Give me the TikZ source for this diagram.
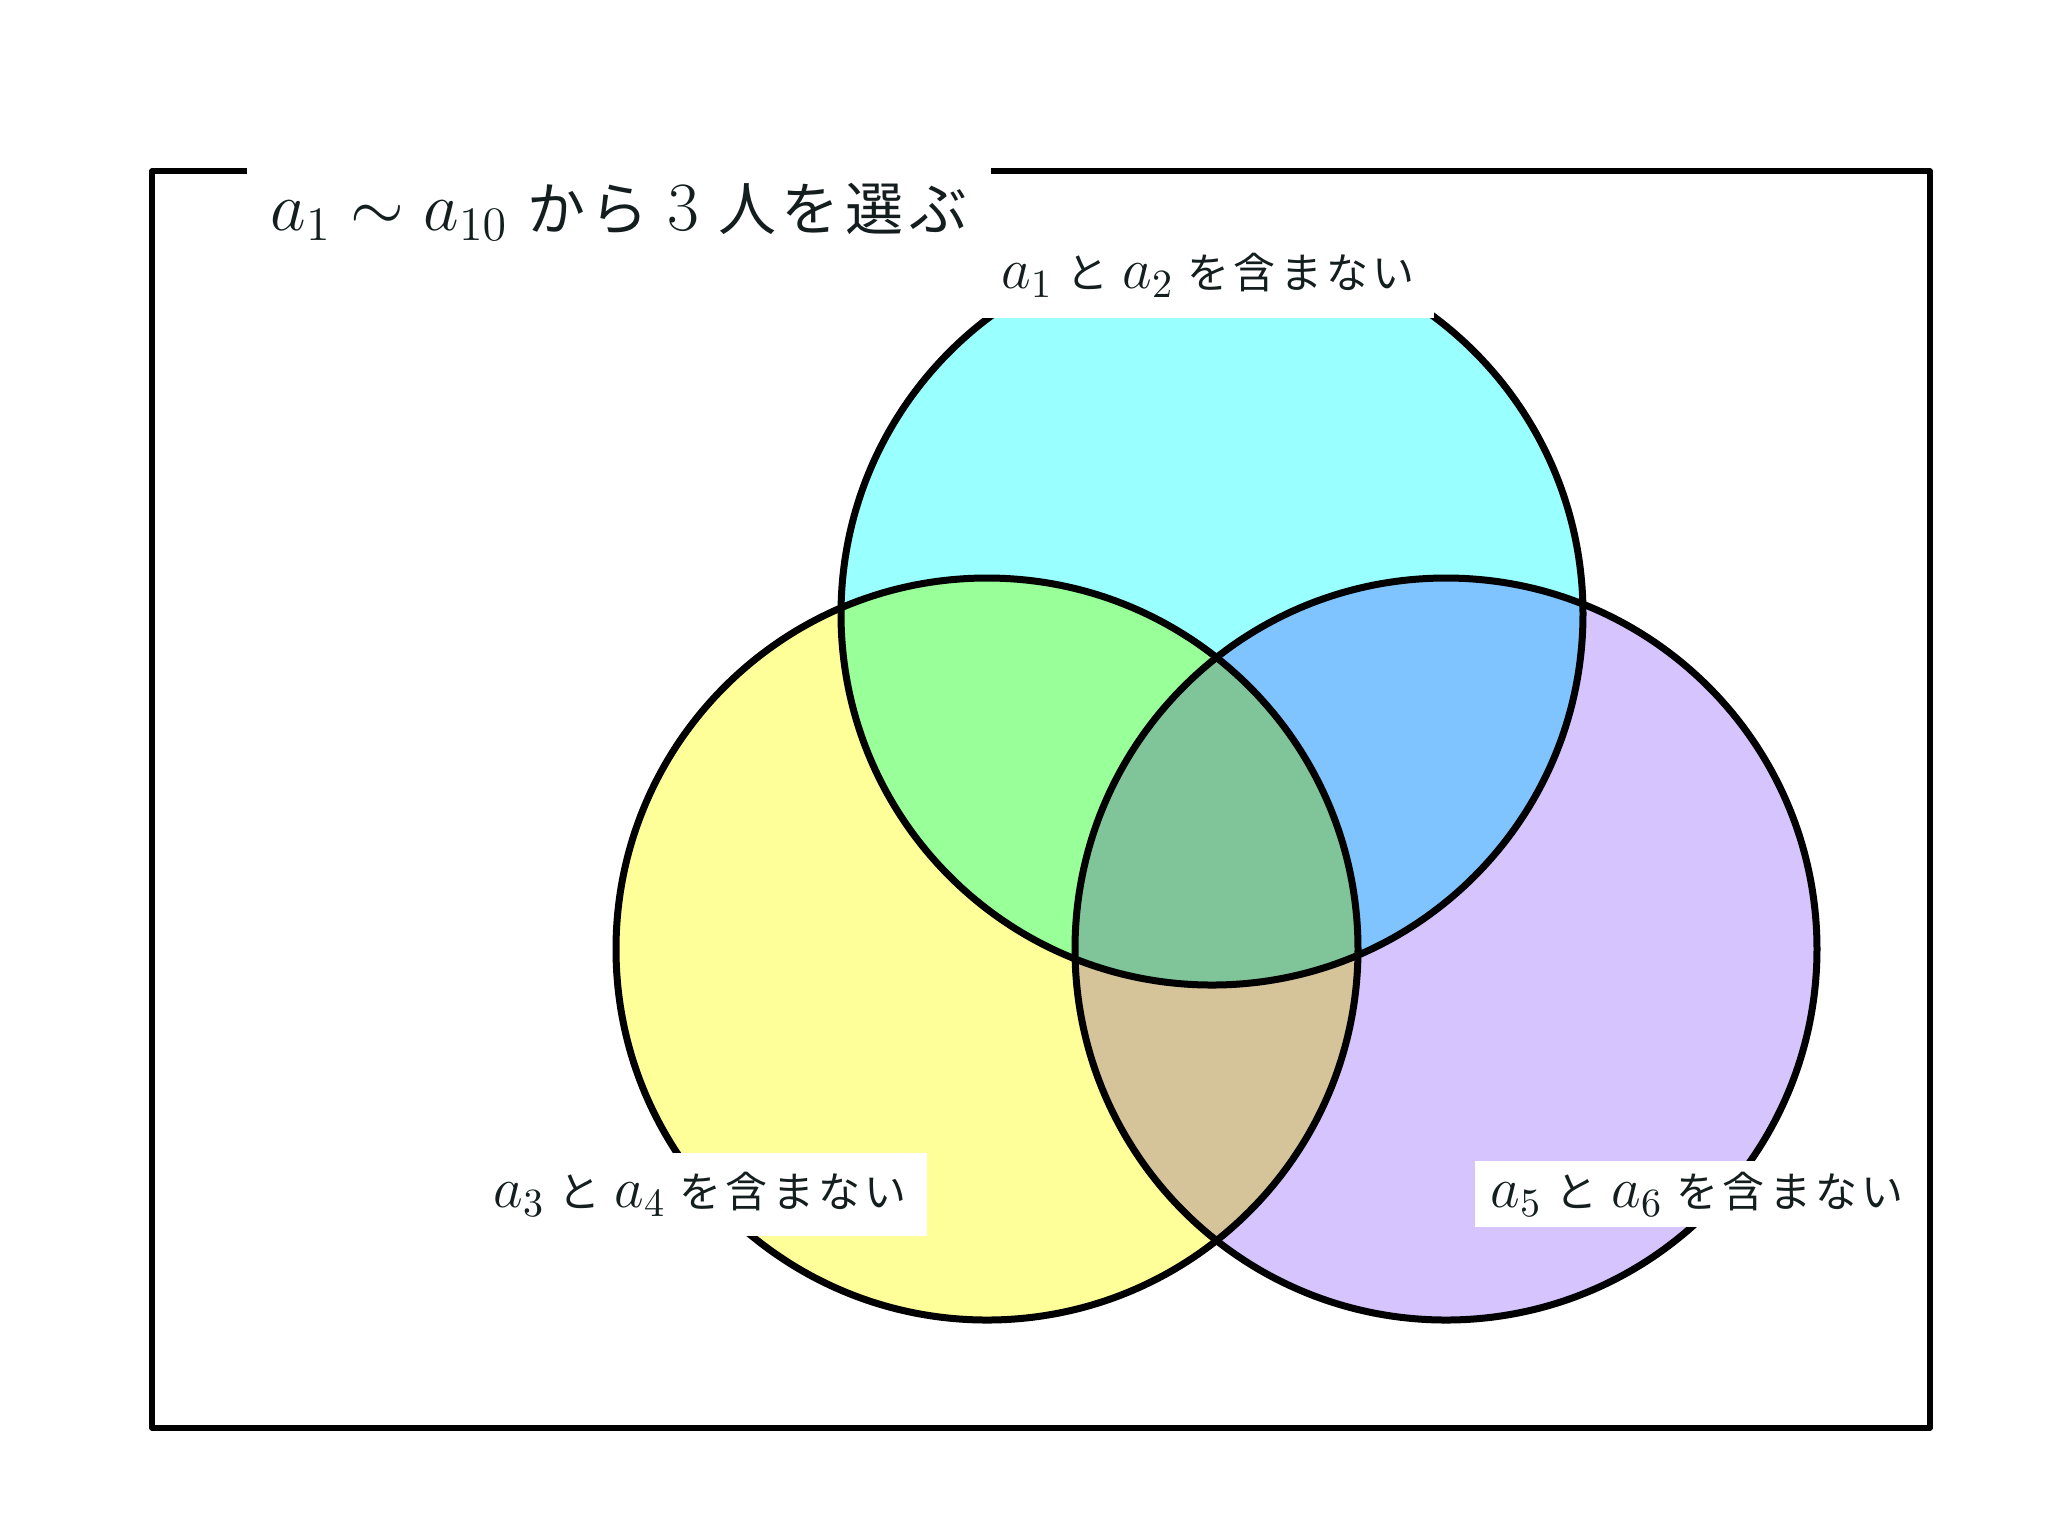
\documentclass[tikz,border=0pt]{standalone}
\usepackage{fontspec}
\newfontfamily\jp[LetterSpace=10]{Noto Sans CJK JP}
\definecolor{cfill}{RGB}{153,255,255}
\definecolor{yfill}{RGB}{255,255,153}
\definecolor{pfill}{RGB}{213,196,253}
\definecolor{gfill}{RGB}{153,255,153}
\definecolor{bfill}{RGB}{128,196,255}
\definecolor{tfill}{RGB}{213,196,153}
\definecolor{mfill}{RGB}{128,196,153}
\definecolor{txt}{RGB}{20,30,30}
\newcommand\lm[1]{{\fontsize{14.5}{14.5}\selectfont$#1$}}
\newcommand\tm[1]{{\fontsize{17.5}{17.5}\selectfont$#1$}}
\tikzset{
  ring/.style={draw=black, line width=1.75pt},
  frameline/.style={draw=black, line width=1.3pt, line join=round},
  lab/.style={fill=white, inner sep=0pt, text=txt, font=\jp\fontsize{10.5}{13}\selectfont},
  titlelab/.style={fill=white, inner sep=0pt, text=txt, font=\jp\fontsize{14.5}{19}\selectfont},
}
\begin{document}
\begin{tikzpicture}[x=0.25pt,y=-0.25pt]
\useasboundingbox (0,0) rectangle (2048,1536);
\def\R{371}
\coordinate (T) at (1212,614);
\coordinate (L) at (987,949);
\coordinate (R) at (1446,949);
% base fills
\fill[cfill] (T) circle[radius=\R];
\fill[yfill] (L) circle[radius=\R];
\fill[pfill] (R) circle[radius=\R];
% pairwise overlaps
\begin{scope}
  \clip (L) circle[radius=\R];
  \fill[tfill] (R) circle[radius=\R];
\end{scope}
\begin{scope}
  \clip (T) circle[radius=\R];
  \fill[gfill] (L) circle[radius=\R];
  \fill[bfill] (R) circle[radius=\R];
  \clip (L) circle[radius=\R];
  \fill[mfill] (R) circle[radius=\R];
\end{scope}
% outlines
\draw[ring] (T) circle[radius=\R];
\draw[ring] (L) circle[radius=\R];
\draw[ring] (R) circle[radius=\R];
% frame
\coordinate (f1) at (152,171);
\coordinate (f2) at (1930,1428);
\draw[frameline] (f1) rectangle (f2);
% labels
\node[titlelab, minimum width=186pt, minimum height=33.5pt] (title) at (619,212)
  {\tm{a_1 \sim a_{10}} から \tm{3} 人を選ぶ};
\node[lab, minimum width=113pt, minimum height=21.5pt] (top) at (1208,275)
  {\lm{a_1} と \lm{a_2} を含まない};
\node[lab, minimum width=113.25pt, minimum height=20.75pt] (bl) at (700,1194.5)
  {\lm{a_3} と \lm{a_4} を含まない};
\node[lab, minimum width=111.25pt, minimum height=16.5pt] (br) at (1697,1194)
  {\lm{a_5} と \lm{a_6} を含まない};
\end{tikzpicture}
\end{document}
